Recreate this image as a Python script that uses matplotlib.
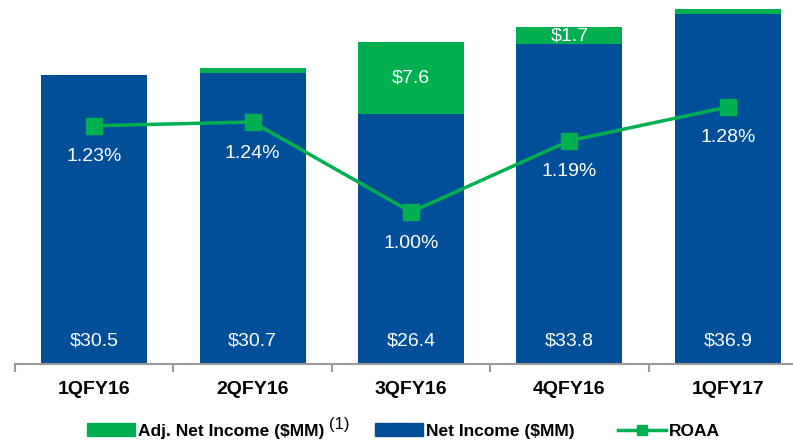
import matplotlib as mpl
mpl.use('Agg')
import matplotlib.pyplot as plt
from matplotlib.patches import Patch
from matplotlib.lines import Line2D
import numpy as np

quarters = ['1QFY16', '2QFY16', '3QFY16', '4QFY16', '1QFY17']
net_income = [30.5, 30.7, 26.4, 33.8, 36.9]
adj_income = [0.0, 0.5, 7.6, 1.7, 0.5]
adj_labels = ['', '', '$7.6', '$1.7', '']
roaa = [1.23, 1.24, 1.00, 1.19, 1.28]

cgreen = '#00B050'
cblue = '#004F98'
cgrid = '#9a9a9a'

plt.rcParams['font.family'] = ['Liberation Sans', 'DejaVu Sans']

my_dpi = 100
W, H = 793, 441
fig = plt.figure(figsize=(W/my_dpi, H/my_dpi), dpi=my_dpi)
ax = fig.add_axes([15/W, 1-364/H, 792/W, 359/H])

x = np.arange(len(quarters))
ax.bar(x, net_income, width=0.67, color=cblue, zorder=2)
ax.bar(x, adj_income, width=0.67, bottom=net_income, color=cgreen, zorder=2)
ax.set_ylim(0, 359/9.48)
ax.set_xlim(-0.5, 4.5)

for i in x:
    ax.text(i, 2.4, '${:.1f}'.format(net_income[i]), ha='center', va='center',
            color='white', fontsize=14, zorder=5)
    if adj_labels[i]:
        ax.text(i, net_income[i] + adj_income[i]/2, adj_labels[i], ha='center',
                va='center', color='white', fontsize=14, zorder=5)

ax.set_xticks(x)
ax.set_xticklabels(quarters, fontsize=14, fontweight='bold')
ax.set_xticks(np.arange(-0.5, 5, 1), minor=True)
ax.tick_params(axis='x', which='major', length=0, pad=12)
ax.tick_params(axis='x', which='minor', length=6, width=1.5, color=cgrid, direction='out')
ax.set_yticks([])
for s in ['top', 'right', 'left']:
    ax.spines[s].set_visible(False)
ax.spines['bottom'].set_color(cgrid)
ax.spines['bottom'].set_linewidth(1.5)

# ROAA on its own scale
ax2 = ax.twinx()
ax2.set_ylim(1.00 - 152/375, 1.00 + 207/375)
ax2.plot(x, roaa, color=cgreen, linewidth=2.5, marker='s', markersize=11, zorder=4)
for i in x:
    ax2.text(i, roaa[i] - 31/375, '{:.2f}%'.format(roaa[i]), ha='center', va='center',
             color='white', fontsize=14, zorder=5)
ax2.axis('off')

# legend: one entry at a time, spaced like the reference
handles = [Patch(color=cgreen), Patch(color=cblue),
           Line2D([0], [0], color=cgreen, linewidth=2.5, marker='s', markersize=7)]
labels = ['Adj. Net Income ($MM)', 'Net Income ($MM)', 'ROAA']
lx = [87, 375, 618]
legs = []
for h, l, px in zip(handles, labels, lx):
    legs.append(fig.legend([h], [l], loc='center left', bbox_to_anchor=(px/W, 1-431/H),
                           frameon=False, prop={'weight': 'bold', 'size': 12.5},
                           handlelength=2.75, handleheight=0.8, handletextpad=0.2,
                           borderaxespad=0, borderpad=0))

fig.canvas.draw()
ext = legs[0].get_texts()[0].get_window_extent()
fig.text((ext.x1 + 4)/W, 1-424/H, '(1)', fontsize=12, ha='left', va='center')

plt.savefig('out.png', dpi=my_dpi, facecolor='white')
